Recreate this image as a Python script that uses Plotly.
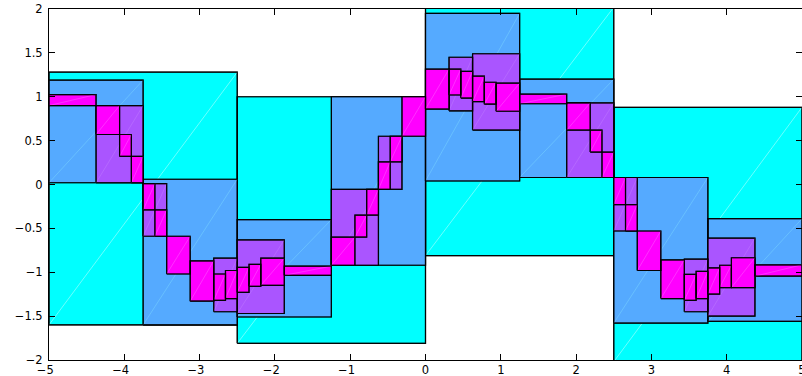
import plotly.graph_objects as go

# ---- data: interval boxes per refinement level (x-left, x-right, y-low, y-high)
cyan_left = [-5.0, -2.5, 0.0, 2.5]
cyan_right = [-2.5, 0.0, 2.5, 5.0]
cyan_lo = [-1.60, -1.81, -0.81, -2.02]
cyan_hi = [1.28, 1.00, 2.02, 0.88]

blue_left = [-5.0, -3.75, -2.5, -1.25, 0.0, 1.25, 2.5, 3.75]
blue_right = [-3.75, -2.5, -1.25, 0.0, 1.25, 2.5, 3.75, 5.0]
blue_lo = [0.02, -1.60, -1.51, -0.92, 0.04, 0.08, -1.58, -1.56]
blue_hi = [1.19, 0.06, -0.40, 1.00, 1.95, 1.20, 0.08, -0.39]

purple_left = [-4.375, -3.75, -2.8125, -2.5, -1.25, -0.625, 0.3125, 0.625, 1.875, 2.5, 3.4375, 3.75]
purple_right = [-3.75, -3.4375, -2.5, -1.875, -0.625, -0.3125, 0.625, 1.25, 2.5, 2.8125, 3.75, 4.375]
purple_lo = [0.02, -0.59, -1.45, -1.47, -0.92, -0.055, 0.84, 0.62, 0.08, -0.53, -1.45, -1.50]
purple_hi = [0.90, 0.01, -0.84, -0.63, -0.055, 0.55, 1.45, 1.49, 0.93, 0.08, -0.85, -0.61]

magenta_left = [-5.0, -4.375, -4.0625, -3.90625, -3.75, -3.59375, -3.4375, -3.125,
                -2.8125, -2.65625, -2.5, -2.34375, -2.1875, -1.875, -1.25, -0.9375,
                -0.78125, -0.625, -0.46875, -0.3125, 0.0, 0.3125, 0.46875, 0.625,
                0.78125, 0.9375, 1.25, 1.875, 2.1875, 2.34375, 2.5, 2.65625, 2.8125,
                3.125, 3.4375, 3.59375, 3.75, 3.90625, 4.0625, 4.375]
magenta_right = [-4.375, -4.0625, -3.90625, -3.75, -3.59375, -3.4375, -3.125, -2.8125,
                 -2.65625, -2.5, -2.34375, -2.1875, -1.875, -1.25, -0.9375, -0.78125,
                 -0.625, -0.46875, -0.3125, 0.0, 0.3125, 0.46875, 0.625, 0.78125,
                 0.9375, 1.25, 1.875, 2.1875, 2.34375, 2.5, 2.65625, 2.8125, 3.125,
                 3.4375, 3.59375, 3.75, 3.90625, 4.0625, 4.375, 5.0]
magenta_lo = [0.90, 0.57, 0.32, 0.02, -0.29, -0.59, -1.02, -1.33,
              -1.32, -1.30, -1.23, -1.16, -1.15, -1.035, -0.92, -0.60,
              -0.35, -0.055, 0.257, 0.55, 0.86, 1.02, 0.985, 0.945,
              0.915, 0.835, 0.92, 0.62, 0.37, 0.08, -0.23, -0.53, -0.98,
              -1.30, -1.32, -1.30, -1.25, -1.175, -1.175, -1.045]
magenta_hi = [1.025, 0.90, 0.57, 0.32, 0.01, -0.29, -0.59, -0.87,
              -1.02, -0.98, -0.945, -0.91, -0.84, -0.93, -0.60, -0.35,
              -0.055, 0.257, 0.55, 1.00, 1.315, 1.315, 1.29, 1.235,
              1.165, 1.155, 1.03, 0.93, 0.62, 0.37, 0.08, -0.23, -0.53,
              -0.86, -1.025, -0.99, -0.95, -0.92, -0.835, -0.915]

x_ticks = [-5, -4, -3, -2, -1, 0, 1, 2, 3, 4, 5]
# a figure space after negative labels keeps the digit centred on its tick
x_tick_text = ["\u22125\u2007", "\u22124\u2007", "\u22123\u2007", "\u22122\u2007", "\u22121\u2007",
               "0", "1", "2", "3", "4", "5"]
y_ticks = [-2, -1.5, -1, -0.5, 0, 0.5, 1, 1.5, 2]
y_tick_text = ["\u22122", "\u22121.5", "\u22121", "\u22120.5", "0", "0.5", "1", "1.5", "2"]

levels = [
    (cyan_left, cyan_right, cyan_lo, cyan_hi, "#00FFFF", "rgba(200,255,255,0.9)"),
    (blue_left, blue_right, blue_lo, blue_hi, "#55AAFF", "rgba(120,210,255,0.9)"),
    (purple_left, purple_right, purple_lo, purple_hi, "#AA55FF", "rgba(190,120,255,0.9)"),
    (magenta_left, magenta_right, magenta_lo, magenta_hi, "#FF00FF", "rgba(255,90,255,0.9)"),
]

fig = go.Figure()
for left, right, lo, hi, color, diag_color in levels:
    xs, ys, dx, dy = [], [], [], []
    for a, b, c, d in zip(left, right, lo, hi):
        xs += [a, b, b, a, a, None]
        ys += [c, c, d, d, c, None]
        dx += [a, b, None]
        dy += [c, d, None]
    fig.add_trace(go.Scatter(
        x=xs, y=ys, mode="lines", fill="toself", fillcolor=color,
        line=dict(color="rgba(0,0,0,0.85)", width=1.2),
        hoverinfo="skip", showlegend=False,
    ))
    fig.add_trace(go.Scatter(
        x=dx, y=dy, mode="lines",
        line=dict(color=diag_color, width=0.6),
        hoverinfo="skip", showlegend=False,
    ))
    # redraw the outlines above the faint diagonals
    fig.add_trace(go.Scatter(
        x=xs, y=ys, mode="lines",
        line=dict(color="rgba(0,0,0,0.85)", width=1.2),
        hoverinfo="skip", showlegend=False,
    ))

axis_font = dict(family="DejaVu Sans", size=11.5, color="black")
fig.update_layout(
    width=802, height=376,
    margin=dict(l=49, r=0, t=9, b=16),
    paper_bgcolor="white", plot_bgcolor="white",
    showlegend=False,
    xaxis=dict(range=[-5, 5], tickvals=x_ticks, ticktext=x_tick_text,
               ticks="inside", ticklen=6, tickcolor="black", tickwidth=1,
               showline=True, linecolor="black", linewidth=1, mirror="ticks",
               showgrid=False, zeroline=False, tickfont=axis_font,
               ticklabelstandoff=-1, ticklabeloverflow="allow", automargin=False),
    yaxis=dict(range=[-2, 2], tickvals=y_ticks, ticktext=y_tick_text,
               ticks="inside", ticklen=6, tickcolor="black", tickwidth=1,
               showline=True, linecolor="black", linewidth=1, mirror="ticks",
               showgrid=False, zeroline=False, tickfont=axis_font,
               ticklabelstandoff=3, automargin=False),
)

fig.write_html(
    "out.html",
    config={"displayModeBar": False},
    post_script="document.body.style.margin='0';document.body.style.overflow='hidden';",
)
